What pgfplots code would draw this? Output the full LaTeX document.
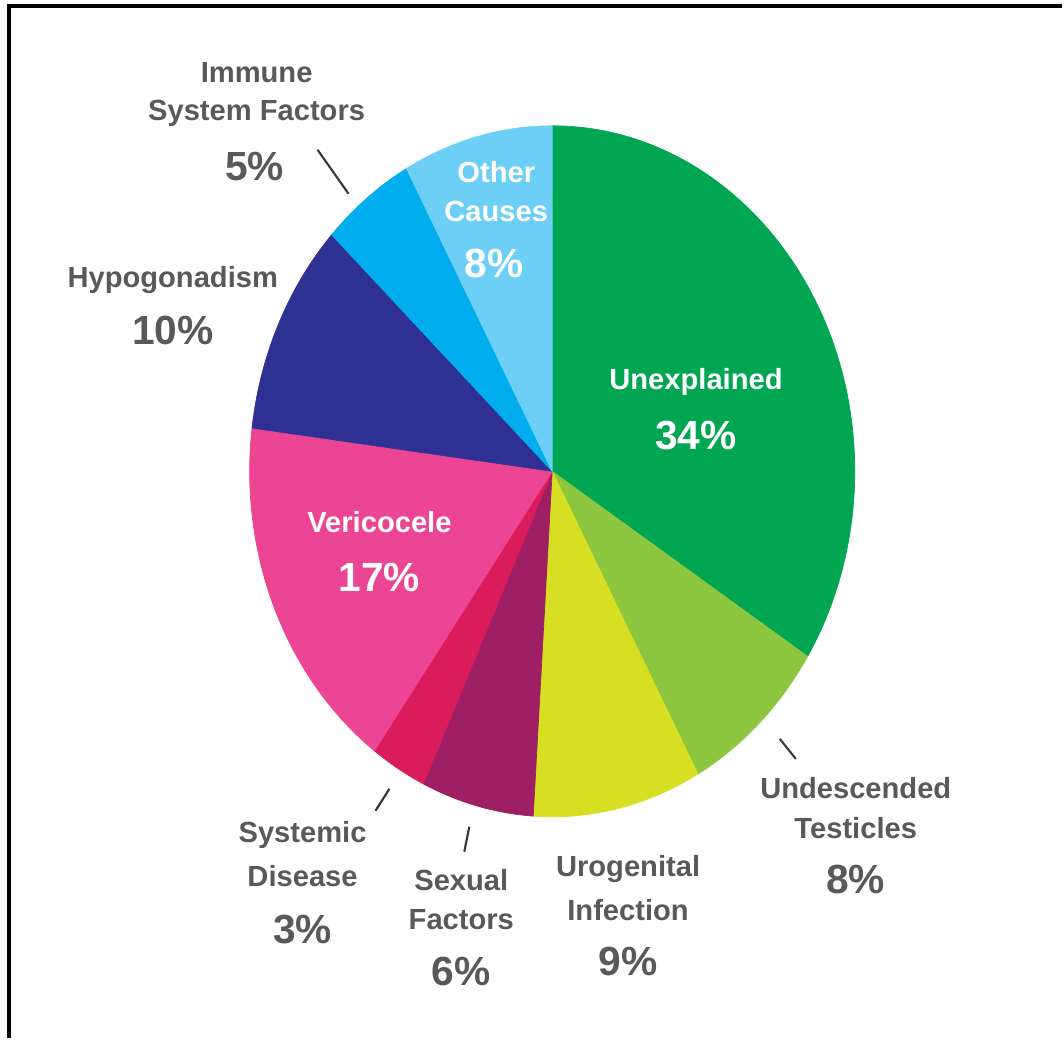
\documentclass[border=0pt]{standalone}
\usepackage{pgfplots}
\usepackage{pgfplotstable}
\pgfplotsset{compat=1.18}
\usepackage{fontspec}
\setmainfont{Liberation Sans}
\definecolor{cUnex}{HTML}{00A651}
\definecolor{cUnde}{HTML}{8DC63F}
\definecolor{cUro}{HTML}{D7DF23}
\definecolor{cSex}{HTML}{9E1F63}
\definecolor{cSys}{HTML}{DA1C5C}
\definecolor{cVer}{HTML}{EC4593}
\definecolor{cHyp}{HTML}{2E3192}
\definecolor{cImm}{HTML}{00AEEF}
\definecolor{cOth}{HTML}{6DCFF6}
\definecolor{txt}{HTML}{58595B}
\pgfplotstableread{
name value color
Unexplained 34 cUnex
Undescended 8 cUnde
Urogenital 9 cUro
Sexual 6 cSex
Systemic 3 cSys
Vericocele 17 cVer
Hypogonadism 10 cHyp
Immune 5 cImm
Other 8 cOth
}\piedata
\begin{document}
\begin{tikzpicture}[
  lbl/.style={font=\fontsize{8.3}{10}\selectfont\bfseries, text=txt, inner sep=0pt, anchor=center},
  pct/.style={font=\fontsize{11.6}{13}\selectfont\bfseries, text=txt, inner sep=0pt, anchor=center},
]
\begin{axis}[
  scale only axis, width=10.64cm, height=10.40cm,
  xmin=0, xmax=1064, ymin=0, ymax=1040,
  hide axis, clip=false,
]
\path (axis cs:0,0) rectangle (axis cs:1064,1040);
\def\cum{0}
\pgfplotsforeachungrouped \i in {0,...,8}{%
  \pgfplotstablegetelem{\i}{value}\of\piedata \let\v\pgfplotsretval
  \pgfplotstablegetelem{\i}{color}\of\piedata \let\c\pgfplotsretval
  \pgfmathsetmacro\a{90-3.6*\cum}%
  \pgfmathsetmacro\b{90-3.6*(\cum+\v)}%
  \edef\temp{\noexpand\fill[\c, draw=\c, line width=0.2pt] (axis cs:553,568) -- ++(\a:3.03cm and 3.46cm) arc[start angle=\a, end angle=\b, x radius=3.03cm, y radius=3.46cm] -- cycle;}%
  \temp
  \pgfmathsetmacro\cum{\cum+\v}%
}
% frame
\draw[black, line width=0.9pt] (axis cs:9,0) -- (axis cs:9,1034) -- (axis cs:1064,1034);
% leader lines
\draw[txt!60!black, line width=0.6pt] (axis cs:318,890) -- (axis cs:349,846);
\draw[txt!60!black, line width=0.6pt] (axis cs:781,300) -- (axis cs:797,280);
\draw[txt!60!black, line width=0.6pt] (axis cs:376,228) -- (axis cs:390,250);
\draw[txt!60!black, line width=0.6pt] (axis cs:465,187) -- (axis cs:470,212);
% labels
\node[lbl] at (axis cs:257,967) {Immune};
\node[lbl] at (axis cs:257,926) {System Factors};
\node[pct] at (axis cs:255,873) {5\%};
\node[lbl, text=white] at (axis cs:497,868) {Other};
\node[lbl, text=white] at (axis cs:497,828) {Causes};
\node[pct, text=white] at (axis cs:495,776) {8\%};
\node[lbl] at (axis cs:173,760) {Hypogonadism};
\node[pct] at (axis cs:173,709) {10\%};
\node[lbl, text=white] at (axis cs:697,657) {Unexplained};
\node[pct, text=white] at (axis cs:697,604) {34\%};
\node[lbl, text=white] at (axis cs:380,517) {Vericocele};
\node[pct, text=white] at (axis cs:380,462) {17\%};
\node[lbl] at (axis cs:857,251) {Undescended};
\node[lbl] at (axis cs:857,211) {Testicles};
\node[pct] at (axis cs:857,159) {8\%};
\node[lbl] at (axis cs:303,204) {Systemic};
\node[lbl] at (axis cs:303,163) {Disease};
\node[pct] at (axis cs:303,109) {3\%};
\node[lbl] at (axis cs:462,159) {Sexual};
\node[lbl] at (axis cs:462,119) {Factors};
\node[pct] at (axis cs:462,67) {6\%};
\node[lbl] at (axis cs:629,170) {Urogenital};
\node[lbl] at (axis cs:629,129) {Infection};
\node[pct] at (axis cs:629,77) {9\%};
\end{axis}
\end{tikzpicture}
\end{document}
